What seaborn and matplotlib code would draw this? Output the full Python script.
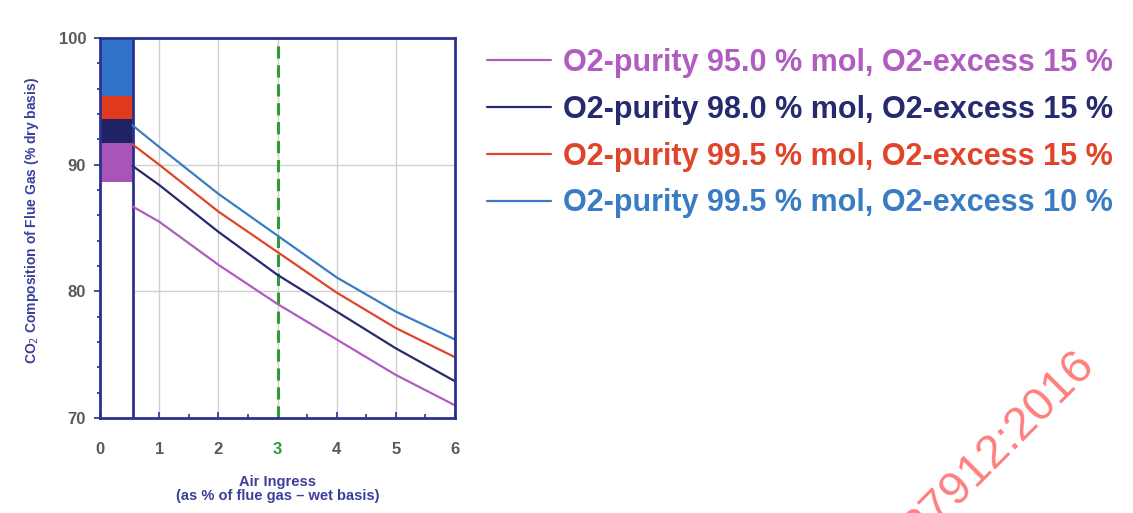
import numpy as np
import pandas as pd
import matplotlib
matplotlib.use('Agg')
import matplotlib.pyplot as plt
import seaborn as sns
from matplotlib.ticker import MultipleLocator

# %% data
air_ingress = [0.55, 1, 2, 3, 4, 5, 6]
co2_p950_ex15 = [86.7, 85.5, 82.1, 79.0, 76.2, 73.4, 71.0]
co2_p980_ex15 = [89.9, 88.4, 84.7, 81.3, 78.4, 75.5, 72.9]
co2_p995_ex15 = [91.6, 90.0, 86.3, 83.1, 79.9, 77.1, 74.8]
co2_p995_ex10 = [93.1, 91.4, 87.7, 84.4, 81.1, 78.4, 76.2]
series = [co2_p950_ex15, co2_p980_ex15, co2_p995_ex15, co2_p995_ex10]
labels = ['O2-purity 95.0 % mol, O2-excess 15 %',
          'O2-purity 98.0 % mol, O2-excess 15 %',
          'O2-purity 99.5 % mol, O2-excess 15 %',
          'O2-purity 99.5 % mol, O2-excess 10 %']
colors = ['#b05cc0', '#262a6e', '#e0452a', '#3a7cc4']

# zero-ingress column, stacked bands (bottom -> top)
band_bottom = [70, 88.6, 91.7, 93.6, 95.4]
band_top = [88.6, 91.7, 93.6, 95.4, 100]
band_colors = ['white', '#a855b8', '#1f2366', '#e03b1e', '#2f74c8']

x_ticks = [0, 1, 2, 3, 4, 5, 6]
y_ticks = [70, 80, 90, 100]
design_ingress = 3

navy = '#2c3190'
label_navy = '#3b3f9c'
grey = '#5a5a5a'
green = '#2e9a3a'

# %%
sns.set_style('white')
plt.rcParams['font.family'] = ['Liberation Sans', 'DejaVu Sans']

fig = plt.figure(figsize=(11.33, 5.13), dpi=100)
ax = fig.add_axes([100/1133, 1-418/513, 355/1133, 380/513])

ax.grid(True, color='#d3cfcf', lw=1, zorder=0)

bar_w = air_ingress[0]
for b, t, c in zip(band_bottom, band_top, band_colors):
    ax.bar(0, t - b, bottom=b, width=bar_w, align='edge', color=c,
           edgecolor='none', zorder=1)
ax.axvline(bar_w, color=navy, lw=2, zorder=3)

handles = []
for vals, c in zip(series, colors):
    sns.lineplot(x=air_ingress, y=vals, color=c, lw=1.6, ax=ax, zorder=4)
    handles.append(ax.lines[-1])

ax.axvline(design_ingress, color=green, lw=2.2, linestyle=(0, (4, 2.2)), zorder=2)

ax.set_xlim(0, 6)
ax.set_ylim(70, 100)
ax.set_xticks(x_ticks)
ax.set_yticks(y_ticks)
ax.xaxis.set_minor_locator(MultipleLocator(0.5))
ax.yaxis.set_minor_locator(MultipleLocator(2))
ax.tick_params(axis='x', which='both', direction='in', color=navy, bottom=True)
ax.tick_params(axis='x', which='major', length=4, width=1.2, pad=17,
               labelsize=12, labelcolor=grey)
ax.tick_params(axis='x', which='minor', length=3, width=1.2)
ax.tick_params(axis='y', which='both', direction='out', color=navy, left=True)
ax.tick_params(axis='y', which='major', length=4, width=1.2, pad=6,
               labelsize=12, labelcolor=grey)
ax.tick_params(axis='y', which='minor', length=2.5, width=1.2)
for lab in ax.get_xticklabels() + ax.get_yticklabels():
    lab.set_fontweight('bold')
ax.get_xticklabels()[x_ticks.index(design_ingress)].set_color(green)
ax.get_xticklines()[2 * x_ticks.index(design_ingress)].set_color(green)

for s in ax.spines.values():
    s.set_color(navy)
    s.set_linewidth(2)
    s.set_zorder(5)

ax.set_ylabel('CO$_2$ Composition of Flue Gas (% dry basis)', fontsize=10,
              fontweight='bold', color=label_navy)
ax.yaxis.set_label_coords(-0.165, 0.52)
ax.set_xlabel('Air Ingress\n(as % of flue gas \u2013 wet basis)', fontsize=10.5,
              fontweight='bold', color=label_navy, labelpad=13, linespacing=1.05)

fig.legend(handles, labels, loc='upper left',
           bbox_to_anchor=(487/1133, 1-48/513), frameon=False,
           prop={'family': 'Liberation Sans', 'weight': 'bold', 'size': 22},
           labelcolor='linecolor', handlelength=2.1, handletextpad=0.4,
           labelspacing=0.55, borderpad=0, borderaxespad=0)

fig.text(1096/1133, 1-366/513, '27912:2016', color='#ff7f7f',
         fontsize=34, rotation=45, rotation_mode='anchor',
         ha='right', va='baseline')

fig.savefig('out.png', dpi=100)
